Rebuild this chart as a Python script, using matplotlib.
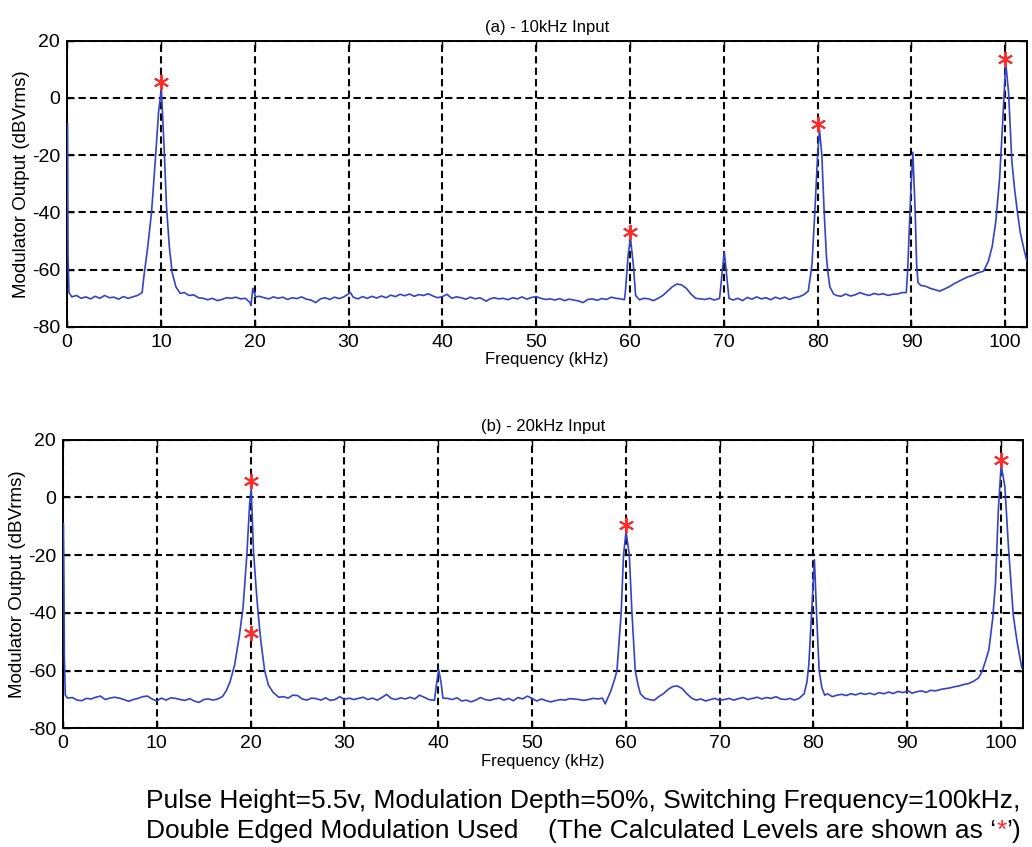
"""Modulator output spectra for 10 kHz and 20 kHz inputs (double-edged PWM)."""
import matplotlib
matplotlib.use("Agg")
import matplotlib.pyplot as plt

plt.rcParams["font.family"] = ["Liberation Sans", "DejaVu Sans"]
plt.rcParams["axes.unicode_minus"] = False

# ---- trace (a): 10 kHz input, vertices (kHz, dBVrms)
freq_a = [0.05, 0.1, 0.2, 0.5, 1.0, 1.5, 2.0, 2.5, 3.0, 3.5, 4.0, 4.5, 5.0, 5.5,
          6.0, 6.5, 7.0, 7.5, 8.0, 8.2, 8.6, 9.0, 9.4, 9.75, 10.05, 10.35, 10.6,
          10.9, 11.2, 11.6, 12.05, 12.5, 13.0, 13.5, 14.0, 14.5, 15.0, 15.5, 16.0,
          16.5, 17.0, 17.5, 18.0, 18.5, 19.0, 19.5, 19.6, 19.8, 20.1, 20.5, 21.0,
          21.5, 22.0, 22.5, 23.0, 23.5, 24.0, 24.5, 25.0, 25.5, 26.0, 26.5, 27.0,
          27.5, 28.0, 28.5, 29.0, 29.5, 30.2, 30.5, 31.0, 31.5, 32.0, 32.5, 33.0,
          33.5, 34.0, 34.5, 35.0, 35.5, 36.0, 36.5, 37.0, 37.5, 38.0, 38.5, 39.0,
          39.5, 40.0, 40.5, 41.0, 41.5, 42.0, 42.5, 43.0, 43.5, 44.0, 44.7, 45.0,
          45.5, 46.0, 46.5, 47.0, 47.5, 48.0, 48.5, 49.0, 49.5, 50.0, 50.5, 51.0,
          51.5, 52.0, 52.5, 53.0, 53.5, 54.0, 54.5, 55.0, 55.5, 56.0, 56.5, 57.0,
          57.5, 58.0, 58.5, 59.0, 59.4, 59.5, 59.8, 60.05, 60.35, 60.6, 61.0, 61.5,
          62.0, 62.5, 63.0, 63.5, 64.0, 64.5, 65.0, 65.5, 66.0, 66.5, 67.0, 67.5,
          68.0, 68.5, 69.0, 69.55, 69.8, 70.05, 70.3, 70.55, 71.0, 71.5, 72.0, 72.5,
          73.0, 73.5, 74.0, 74.5, 75.0, 75.5, 76.0, 76.5, 77.0, 77.5, 78.0, 78.5,
          79.0, 79.2, 79.4, 79.7, 80.0, 80.2, 80.45, 80.7, 80.95, 81.1, 81.3, 81.7,
          82.0, 82.5, 83.0, 83.5, 84.0, 84.5, 85.0, 85.5, 86.0, 86.5, 87.0, 87.5,
          88.0, 88.5, 89.0, 89.45, 89.6, 89.9, 90.15, 90.4, 90.55, 90.7, 91.0, 91.5,
          92.0, 92.5, 93.0, 93.5, 94.0, 94.5, 95.2, 96.0, 96.5, 97.0, 97.7, 98.2,
          98.6, 99.0, 99.4, 99.7, 100.05, 100.35, 100.7, 101.0, 101.3, 101.6, 102.0,
          102.3]
level_a = [-9, -55, -68, -69.5, -69, -70, -69.5, -70.2, -69.3, -70, -69, -69.8, -69.6,
           -70.3, -69.4, -70, -69.5, -69, -68, -62, -52, -40, -22, -5, 3, -18, -38,
           -52, -61, -66, -68.3, -68, -69, -68.8, -69.8, -70, -70.5, -70, -70.8,
           -70.4, -69.8, -70, -69.6, -70.2, -70, -71.5, -72.5, -66.5, -69.5, -69.3,
           -69.8, -70.2, -69.5, -70, -69.6, -70.4, -69.8, -70.1, -69.5, -70.3, -70.6,
           -71.5, -70.2, -69.8, -70.4, -69.6, -70.1, -69.5, -68, -69.6, -70.2, -69.4,
           -70, -69.3, -69.9, -69.2, -69.8, -68.9, -69.4, -68.6, -69.1, -68.5, -69.3,
           -68.7, -69, -68.4, -69.2, -69.8, -69.4, -68.6, -70, -69.5, -69.8, -70.3,
           -69.6, -70.2, -69.8, -71, -70.3, -69.8, -70.2, -70, -70.5, -69.8, -70.2,
           -69.5, -70.3, -69.7, -69.4, -70, -70.4, -70.2, -70.6, -70.1, -70.8, -70.3,
           -70.6, -70.9, -71.5, -70.4, -70.2, -70.7, -70.1, -70.4, -69.6, -70, -70.2,
           -70.5, -68, -55, -49, -58, -69, -70.5, -70, -70.2, -70.8, -70, -69, -67.5,
           -66, -65, -65.3, -66.5, -68.5, -70, -70.2, -70.4, -70, -70.6, -70, -62,
           -53.7, -62, -70, -70.6, -70, -70.8, -69.7, -70.3, -69.5, -70.2, -69.8,
           -70.5, -69.6, -70.2, -69.6, -70.4, -69.8, -69.5, -68.8, -67.5, -63, -58,
           -40, -20, -11, -20, -40, -56, -61, -66, -68.5, -69, -69.3, -68.5, -69.2,
           -68.8, -68, -68.6, -69, -68.3, -68.7, -68.4, -69, -68.6, -68.5, -68, -68,
           -60, -35, -19, -40, -58, -64.5, -65.5, -65.8, -66.5, -67, -67.5, -66.8,
           -66, -65, -63.8, -62.5, -62, -61.2, -60.5, -57, -52, -43, -28, -10, 12.3,
           2, -22, -32, -40, -47, -53, -57]

# ---- trace (b): 20 kHz input
freq_b = [0.05, 0.1, 0.15, 0.25, 0.5, 1.0, 1.5, 2.0, 2.5, 3.0, 3.5, 4.0, 4.5, 5.0,
          5.5, 6.0, 6.5, 7.0, 7.5, 8.0, 8.5, 9.0, 9.5, 10.0, 10.5, 11.0, 11.5, 12.0,
          12.5, 13.0, 13.5, 14.0, 14.5, 15.0, 15.5, 16.0, 16.5, 17.0, 17.4, 17.8,
          18.3, 18.8, 19.2, 19.6, 19.9, 20.07, 20.3, 20.6, 20.8, 21.1, 21.5, 21.9,
          22.4, 23.0, 23.5, 24.0, 24.5, 25.0, 25.5, 26.0, 26.5, 27.0, 27.5, 28.0,
          28.5, 29.0, 29.5, 30.0, 30.5, 31.0, 31.5, 32.0, 32.5, 33.0, 33.5, 34.0,
          34.5, 35.0, 35.5, 36.0, 36.5, 37.0, 37.5, 38.0, 38.5, 39.0, 39.6, 39.8,
          40.05, 40.3, 40.5, 41.0, 41.5, 42.0, 42.5, 43.0, 43.5, 44.0, 44.5, 45.0,
          45.5, 46.0, 46.5, 47.0, 47.5, 48.0, 48.5, 49.0, 49.5, 50.0, 50.5, 51.0,
          51.5, 52.0, 52.5, 53.0, 53.5, 54.0, 54.5, 55.0, 55.5, 56.0, 56.5, 57.0,
          57.5, 57.8, 58.0, 58.4, 58.8, 59.05, 59.5, 59.75, 60.02, 60.37, 60.65,
          61.0, 61.3, 61.55, 62.0, 62.5, 63.0, 63.5, 64.0, 64.5, 65.0, 65.5, 66.0,
          66.5, 67.0, 67.5, 68.0, 68.5, 69.0, 69.5, 70.0, 70.5, 71.0, 71.5, 72.0,
          72.5, 73.0, 73.5, 74.0, 74.5, 75.0, 75.5, 76.0, 76.5, 77.0, 77.5, 78.0,
          78.5, 79.0, 79.3, 79.5, 79.8, 80.1, 80.35, 80.6, 80.9, 81.2, 81.5, 82.0,
          82.5, 83.0, 83.5, 84.0, 84.5, 85.0, 85.5, 86.0, 86.5, 87.0, 87.5, 88.0,
          88.5, 89.0, 89.5, 90.1, 90.5, 91.0, 91.5, 92.0, 92.5, 93.0, 93.7, 94.5,
          95.0, 95.5, 96.0, 96.5, 97.1, 97.6, 98.0, 98.4, 98.7, 99.1, 99.4, 99.7,
          100.0, 100.4, 100.8, 101.3, 101.7, 102.2]
level_b = [-9, -26, -55, -68.5, -69.5, -69.3, -70.2, -70.4, -69.6, -69.8, -69.2,
           -68.8, -70, -69.5, -69.2, -69.5, -70, -70.6, -70, -69.6, -69, -68.8,
           -69.8, -70.5, -69.5, -70.2, -69.4, -69.6, -70, -70.3, -69.7, -70.5, -71,
           -70, -69.8, -70.2, -69.8, -69, -67, -64, -58, -48, -38, -20, -2, 3, -18,
           -32, -40, -50, -60, -65, -67.5, -69.2, -69, -69.5, -68.5, -68.6, -69.8,
           -70.2, -69.5, -69.7, -70.2, -69.4, -70.3, -70, -69, -70, -69.5, -70,
           -69.6, -69.2, -70, -69.5, -70.2, -69.3, -68.2, -69.6, -70, -69.4, -69.8,
           -69.2, -69.8, -68.5, -69.2, -70, -70.3, -65, -59.7, -64, -69.5, -69.6,
           -70, -69.4, -70.5, -70.2, -70.8, -70.2, -69.3, -70, -70.3, -69.8, -69.5,
           -70.2, -69.6, -70.4, -69.3, -69.8, -68.8, -69.6, -70.5, -69.8, -70.4,
           -70.8, -70.4, -70, -70.2, -69.7, -69.8, -70, -70.3, -70, -69.6, -69.8,
           -69.5, -71.5, -70, -67, -63, -60, -40, -20, -11.8, -20, -40, -60, -65,
           -68, -69.5, -70, -70.3, -69, -68, -66.5, -65.5, -65.3, -66.2, -68, -69.5,
           -70.2, -69.8, -70.5, -70, -69.6, -70.3, -70, -69.6, -70.2, -69.7, -69.3,
           -70, -69.6, -69.2, -69.8, -69.3, -69.6, -69, -69.8, -70, -69.6, -70.2,
           -69.5, -68, -64, -58, -40, -21.6, -42, -60, -66, -68.5, -68, -69, -68.5,
           -68.2, -68.6, -68, -68.4, -67.8, -68.2, -67.8, -68.3, -67.6, -68, -67.4,
           -67.9, -67.2, -67.6, -67, -67.8, -67.3, -67, -67.5, -66.8, -67, -66.4,
           -66, -65.6, -65.3, -64.8, -64.5, -63.6, -62.5, -60, -56, -52.6, -42,
           -29.7, -4.4, 11.1, 3.7, -18.2, -41, -50, -59]

# ---- calculated levels (red asterisks)
calc_freq_a = [10, 60, 80, 100]
calc_level_a = [5.5, -46.8, -9.0, 13.5]
calc_freq_b = [20, 20, 60, 100]
calc_level_b = [5.5, -46.8, -9.5, 12.9]

titles = ["(a) - 10kHz Input", "(b) - 20kHz Input"]
xticks = [0, 10, 20, 30, 40, 50, 60, 70, 80, 90, 100]
yticks = [-80, -60, -40, -20, 0, 20]

LINE_C = "#3343c6"
STAR_C = "#ff2a2a"

fig = plt.figure(figsize=(10.32, 8.47), dpi=100)
boxes = [[0.065, 0.614, 0.930, 0.338], [0.061, 0.140, 0.930, 0.341]]
traces = [(freq_a, level_a, calc_freq_a, calc_level_a),
          (freq_b, level_b, calc_freq_b, calc_level_b)]

for box, (fx, fy, cx, cy), title in zip(boxes, traces, titles):
    ax = fig.add_axes(box)
    ax.plot(fx, fy, color=LINE_C, lw=1.2, zorder=3)
    ax.plot(cx, cy, ls="none", marker=(6, 2, 0), ms=11, mew=1.4,
            color=STAR_C, zorder=4)
    ax.set_xlim(0, 102.3)
    ax.set_ylim(-80, 20)
    ax.set_xticks(xticks)
    ax.set_yticks(yticks)
    ax.grid(True, color="black", lw=1.5, ls=(0, (3.5, 2.0)))
    ax.tick_params(direction="in", length=5, width=1, labelsize=14,
                   top=True, right=True, pad=5)
    for s in ax.spines.values():
        s.set_linewidth(1.4)
    ax.set_title(title, fontsize=12, pad=6)
    ax.set_xlabel("Frequency (kHz)", fontsize=12, labelpad=1)
    ax.set_ylabel("Modulator Output (dBVrms)", fontsize=13.5, labelpad=1)

note_kw = dict(fontsize=19, va="baseline", ha="left")
fig.text(0.141, 0.046, "Pulse Height=5.5v, Modulation Depth=50%, "
         "Switching Frequency=100kHz,", **note_kw)
fig.text(0.141, 0.011, "Double Edged Modulation Used", **note_kw)
t1 = fig.text(0.531, 0.011, "(The Calculated Levels are shown as \u2018",
              **note_kw)
t2 = ax.annotate("*", xy=(1, 0), xycoords=t1, color=STAR_C, annotation_clip=False,
                 fontsize=19, va="bottom", ha="left")
ax.annotate("\u2019)", xy=(1, 0), xycoords=t2, annotation_clip=False,
            fontsize=19, va="bottom", ha="left")

fig.savefig("out.png", dpi=100)
